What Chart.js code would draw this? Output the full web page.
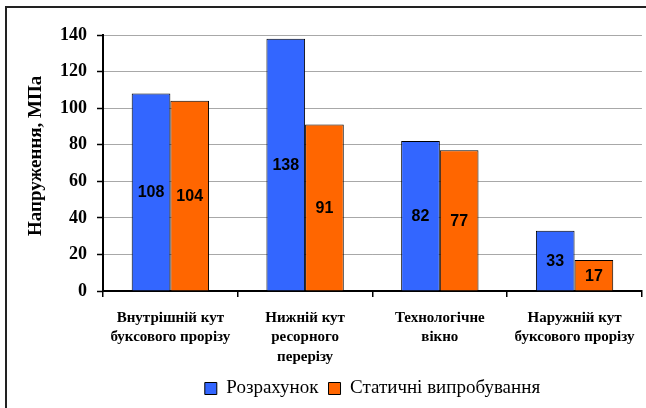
<!DOCTYPE html>
<html>
<head>
<meta charset="utf-8">
<script src="https://cdn.jsdelivr.net/npm/chart.js@4.4.0/dist/chart.umd.min.js"></script>
<style>
  html, body { margin: 0; padding: 0; background: #fff; }
  #wrap { position: relative; width: 646px; height: 408px; overflow: hidden; }
  #frame { position: absolute; left: 5px; top: 6px; width: 645px; height: 410px;
           border-left: 2px solid #222; border-top: 2px solid #222; }
  #chart { position: absolute; left: 0; top: 0; }
</style>
</head>
<body>
<div id="wrap">
  <div id="frame"></div>
  <canvas id="chart" width="646" height="408"></canvas>
</div>
<script>
// Дані діаграми
const categories = [
  ['Внутрішній кут', 'буксового прорізу'],
  ['Нижній кут', 'ресорного', 'перерізу'],
  ['Технологічне', 'вікно'],
  ['Наружній кут', 'буксового прорізу']
];
const seriesNames = ['Розрахунок', 'Статичні випробування'];
const calcValues = [108, 138, 82, 33];   // розрахунок
const testValues = [104, 91, 77, 17];    // статичні випробування
const yTickValues = [0, 20, 40, 60, 80, 100, 120, 140];

const serif = '"Liberation Serif", "Times New Roman", serif';
Chart.defaults.font.family = serif;
Chart.defaults.color = '#000';
Chart.defaults.plugins.legend.labels.font = { family: 'Liberation Serif', size: 19, style: 'normal', weight: 'normal' };

// Підписи значень всередині стовпців
const valueLabels = {
  id: 'valueLabels',
  afterDatasetsDraw(chart) {
    const ctx = chart.ctx;
    ctx.save();
    ctx.font = 'bold 16px "Liberation Sans", Arial, sans-serif';
    ctx.fillStyle = '#000';
    ctx.textAlign = 'center';
    ctx.textBaseline = 'middle';
    chart.data.datasets.forEach((ds, i) => {
      chart.getDatasetMeta(i).data.forEach((bar, j) => {
        const p = bar.getProps(['x', 'y', 'base'], true);
        ctx.fillText(ds.data[j], p.x, (p.y + p.base) / 2 + 1);
      });
    });
    ctx.restore();
  }
};

const ctx = document.getElementById('chart').getContext('2d');
new Chart(ctx, {
  type: 'bar',
  data: {
    labels: categories,
    datasets: [
      {
        label: seriesNames[0],
        data: calcValues,
        backgroundColor: '#3366FF',
        borderColor: '#000',
        borderWidth: 1
      },
      {
        label: seriesNames[1],
        data: testValues,
        backgroundColor: '#FF6600',
        borderColor: '#000',
        borderWidth: 1
      }
    ]
  },
  options: {
    responsive: false,
    animation: false,
    devicePixelRatio: 1,
    datasets: { bar: { barPercentage: 1, categoryPercentage: 0.574 } },
    layout: { padding: { top: 35, right: 4, bottom: 0, left: 0 } },
    plugins: {
      title: { display: false },
      tooltip: { enabled: false },
      legend: {
        position: 'bottom',
        fullSize: false,
        labels: {
          boxWidth: 12,
          boxHeight: 12,
          padding: 10,
          color: '#000'
        }
      }
    },
    scales: {
      x: {
        offset: true,
        grid: {
          display: true,
          offset: true,
          drawOnChartArea: false,
          drawTicks: true,
          tickLength: 6,
          color: '#000',
          lineWidth: 1.5
        },
        border: { display: true, color: '#000', width: 2 },
        ticks: {
          color: '#000',
          padding: 11,
          maxRotation: 0,
          autoSkip: false,
          font: { family: serif, size: 15, weight: 'bold', lineHeight: 1.3 }
        },
        afterFit(scale) { scale.height = 78; }
      },
      y: {
        min: 0,
        max: 140,
        afterBuildTicks(scale) { scale.ticks = yTickValues.map(v => ({ value: v })); },
        grid: {
          color: '#a8a8a8',
          lineWidth: 1,
          tickLength: 6,
          tickColor: '#000',
          tickWidth: 1.5
        },
        border: { display: true, color: '#000', width: 2 },
        ticks: {
          color: '#000',
          padding: 10,
          font: { family: serif, size: 18, weight: 'bold' }
        },
        title: {
          display: true,
          text: '\u00A0\u00A0\u00A0Напруження, МПа',
          color: '#000',
          padding: { top: 25, bottom: 0 },
          font: { family: serif, size: 19, weight: 'bold' }
        },
        afterFit(scale) { scale.width = 103; }
      }
    }
  },
  plugins: [valueLabels]
});
</script>
</body>
</html>
